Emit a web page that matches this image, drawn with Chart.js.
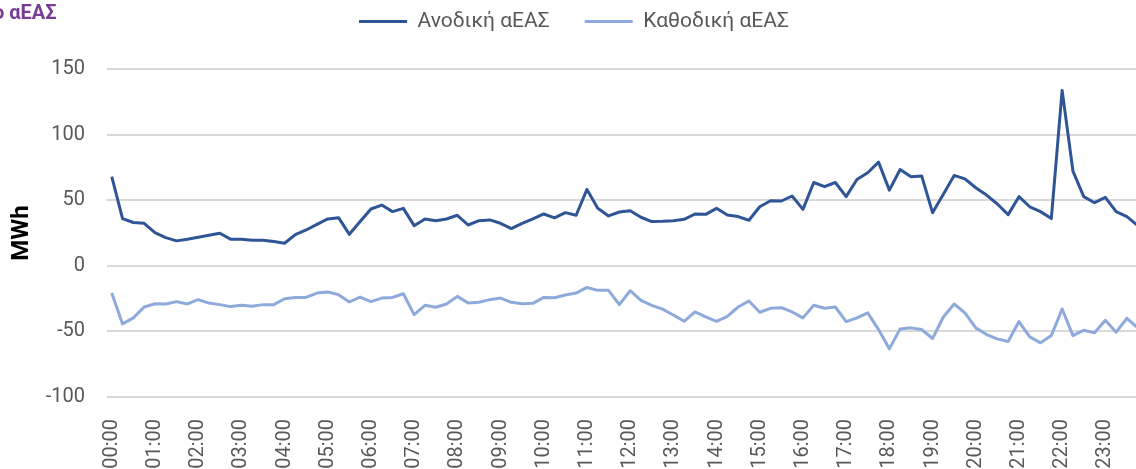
<!DOCTYPE html>
<html>
<head>
<meta charset="utf-8">
<script src="https://cdn.jsdelivr.net/npm/chart.js@4.4.1/dist/chart.umd.min.js"></script>
<style>
    html, body { margin: 0; padding: 0; background: #fff; overflow: hidden; }
    #wrap { position: absolute; left: 0; top: 0; width: 1148px; height: 469px; }
</style>
</head>
<body>
<div id="wrap"><canvas id="chart"></canvas></div>
<script>
// --  data: quarter-hour values  --
const hourLabels = ['00:00', '01:00', '02:00', '03:00', '04:00', '05:00', '06:00', '07:00',
    '08:00', '09:00', '10:00', '11:00', '12:00', '13:00', '14:00', '15:00',
    '16:00', '17:00', '18:00', '19:00', '20:00', '21:00', '22:00', '23:00']

const upValues = [
    68, 36, 33, 32.4, 25.3, 21.5, 19, 20.3, 21.8, 23.3, 24.8, 20.3,
    20.3, 19.5, 19.5, 18.5, 17.2, 23.8, 27.3, 31.6, 35.7, 36.7, 24, 33.7,
    43.3, 46.3, 41.3, 43.8, 30.6, 35.7, 34.4, 35.7, 38.5, 31.1, 34.4, 35,
    32.4, 28.4, 32.4, 35.7, 39.5, 36.5, 40.5, 38.5, 58.2, 43.8, 38, 41,
    42, 37, 33.7, 33.9, 34.4, 35.4, 39.5, 39.2, 43.8, 38.7, 37.5, 34.7,
    45, 49.6, 49.4, 53.2, 43, 63.5, 60.3, 63.5, 52.7, 65.8, 70.9, 79,
    57.7, 73.4, 67.8, 68.4, 40.5, 54.5, 68.9, 66.3, 59.5, 53.9, 47.1, 39,
    52.7, 45, 41.3, 36, 133.7, 72.2, 52.7, 48.1, 52.2, 41.3, 37.5, 30.6
]

const downValues = [
    -20.8, -44.3, -39.7, -31.4, -28.9, -29.1, -27.3, -29.1, -25.8, -28.4, -29.6, -31.1,
    -30.1, -30.9, -29.6, -29.6, -25.1, -24.1, -24.1, -20.8, -20, -22, -27.6, -23.8,
    -27.3, -24.6, -24.1, -21.3, -37.2, -30.1, -31.6, -29.1, -23.3, -28.4, -27.8, -25.8,
    -24.6, -27.8, -28.9, -28.6, -24.1, -24.3, -22.3, -20.8, -16.5, -18.7, -18.7, -29.6,
    -19, -26.3, -30.1, -33, -37.5, -42.3, -35.2, -39, -42.3, -38.5, -31.4, -26.8,
    -35.4, -32.4, -31.9, -35.2, -39.7, -30.1, -32.4, -31.4, -42.5, -39.7, -35.9, -48.6,
    -63.3, -48.1, -47.3, -48.6, -55.4, -39, -29.1, -35.9, -47.3, -52.4, -55.7, -57.7,
    -42.5, -54.2, -58.7, -53.2, -32.9, -53.2, -49.1, -51.1, -41.5, -50.6, -40, -47.3
]

const seriesNames = ['Ανοδική αΕΑΣ', 'Καθοδική αΕΑΣ']
const yTicks = [-100, -50, 0, 50, 100, 150]
const titleText = 'ο αΕΑΣ'   // only the tail of the title is visible in the picture

// each quarter-hour gets its index on the x axis, four per hour
function toPoints (values) {
    return values.map((v, i) => ({ x: i, y: v }))
}

// the title sits half outside the picture, so it is drawn by hand
const cutTitle = {
    id: 'cutTitle',
    afterDraw (chart) {
        const ctx = chart.ctx
        ctx.save()
        ctx.fillStyle = '#7a3d96'
        ctx.font = 'bold 20px Roboto, sans-serif'
        ctx.textBaseline = 'alphabetic'
        ctx.fillText(titleText, -7, 19)
        ctx.restore()
    }
}

// the legend needs more room below it than chart.js gives, so stretch its box
const legendGap = {
    id: 'legendGap',
    beforeLayout (chart) {
        const lg = chart.legend
        if (lg && !lg._gapDone) {
            const fit = lg.fit
            lg.fit = function () {
                fit.call(this)
                this.height += 27
            }
            lg._gapDone = true
        }
    }
}

new Chart(document.getElementById('chart').getContext('2d'), {
    type: 'line',
    data: {
        datasets: [
            {
                label: seriesNames[0],
                data: toPoints(upValues),
                borderColor: '#2f5597',
                backgroundColor: '#2f5597',
                borderWidth: 3,
                pointRadius: 0,
                tension: 0,
                borderJoinStyle: 'round'
            },
            {
                label: seriesNames[1],
                data: toPoints(downValues),
                borderColor: '#8eaadb',
                backgroundColor: '#8eaadb',
                borderWidth: 3,
                pointRadius: 0,
                tension: 0,
                borderJoinStyle: 'round'
            }
        ]
    },
    options: {
        responsive: true,
        maintainAspectRatio: false,
        animation: false,
        layout: { padding: { top: -24, left: 0, right: 0, bottom: 0 } },
        plugins: {
            tooltip: { enabled: false },
            legend: {
                position: 'top',
                align: 'center',
                labels: {
                    boxWidth: 48,
                    boxHeight: 3,
                    padding: 35,
                    color: '#595959',
                    font: { family: 'Roboto', size: 21 },
                    generateLabels (chart) {
                        //flat line markers, no border round them
                        return chart.data.datasets.map((ds, i) => ({
                            text: ds.label,
                            fillStyle: ds.borderColor,
                            strokeStyle: ds.borderColor,
                            lineWidth: 0,
                            hidden: false,
                            datasetIndex: i,
                            fontColor: '#595959'
                        }))
                    }
                }
            }
        },
        scales: {
            x: {
                type: 'linear',
                min: -0.44,
                max: 95.95,
                grid: { display: false },
                border: { display: false },
                afterBuildTicks (scale) {
                    scale.ticks = hourLabels.map((lab, h) => ({ value: h * 4 }))
                },
                afterFit (scale) {
                    scale.height = 72
                },
                ticks: {
                    autoSkip: false,
                    minRotation: 90,
                    maxRotation: 90,
                    padding: 14,
                    color: '#595959',
                    font: { family: 'Roboto', size: 20 },
                    callback: (value) => hourLabels[value / 4]
                }
            },
            y: {
                min: -100,
                max: 150,
                afterBuildTicks (scale) {
                    scale.ticks = yTicks.map(v => ({ value: v }))
                },
                afterFit (scale) {
                    scale.width = 107
                },
                grid: { color: '#d9d9d9', lineWidth: 2, drawTicks: false },
                border: { display: false },
                ticks: {
                    padding: 22,
                    color: '#595959',
                    font: { family: 'Roboto', size: 20 }
                },
                title: {
                    display: true,
                    text: 'MWh',
                    color: '#000',
                    font: { family: 'Roboto', size: 24, weight: 'bold' },
                    padding: { top: 8, bottom: 0 }
                }
            }
        }
    },
    plugins: [cutTitle, legendGap]
})
</script>
</body>
</html>
